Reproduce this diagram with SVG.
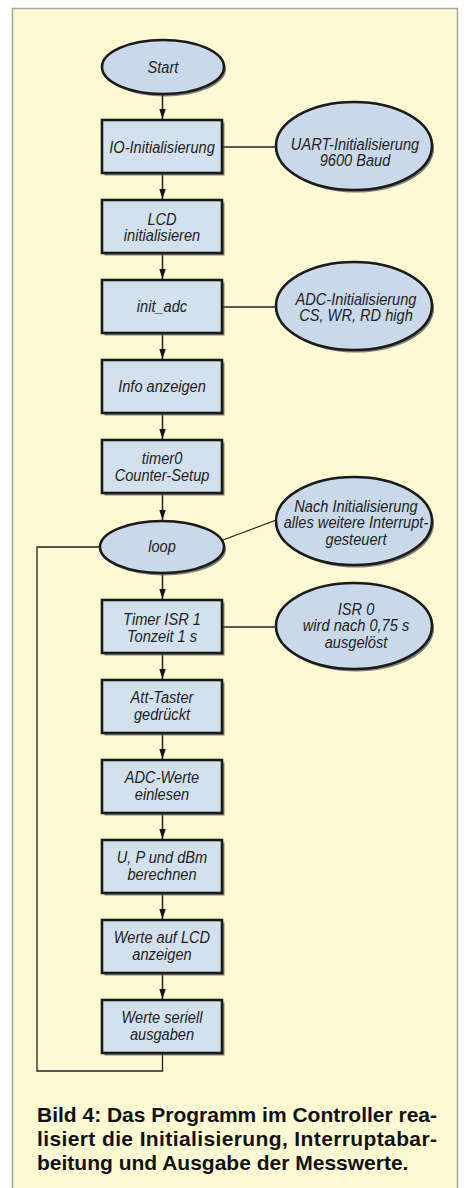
<svg xmlns="http://www.w3.org/2000/svg" width="466" height="1188" viewBox="0 0 466 1188">
<defs>
<style>
.box{fill:#d3e1ee;stroke:#1a1a1a;stroke-width:2.6}
.ell{fill:#c9d9ea;stroke:#1a1a1a;stroke-width:2.6}
.sh{fill:#555;opacity:0.75}
.t{font-family:"Liberation Sans",Arial,sans-serif;font-style:italic;font-size:17px;fill:#222;text-anchor:middle}
.ln{fill:none;stroke:#222;stroke-width:1.3}
.ar{fill:none;stroke:#222;stroke-width:1.5;marker-end:url(#ah)}
.cap{font-family:"Liberation Sans",Arial,sans-serif;font-weight:bold;font-size:21px;fill:#111}
</style>
<marker id="ah" viewBox="0 0 10 8" refX="10" refY="4" markerWidth="10" markerHeight="8" markerUnits="userSpaceOnUse" orient="auto">
<path d="M0,0.8 L10,4 L0,7.2 Z" fill="#111"/>
</marker>
</defs>
<rect x="0" y="0" width="466" height="1188" fill="#ffffff"/>
<rect x="12.5" y="8.5" width="445" height="1185" fill="#fdf9d2" stroke="#a8a8a0" stroke-width="1.5"/>

<g id="connectors">
<line class="ar" x1="162.5" y1="95" x2="162.5" y2="119"/>
<line class="ar" x1="162.5" y1="174" x2="162.5" y2="199"/>
<line class="ar" x1="162.5" y1="254" x2="162.5" y2="279"/>
<line class="ar" x1="162.5" y1="334" x2="162.5" y2="359"/>
<line class="ar" x1="162.5" y1="414" x2="162.5" y2="439"/>
<line class="ar" x1="162.5" y1="494" x2="162.5" y2="520"/>
<line class="ar" x1="162.5" y1="574" x2="162.5" y2="599"/>
<line class="ar" x1="162.5" y1="654" x2="162.5" y2="679"/>
<line class="ar" x1="162.5" y1="734" x2="162.5" y2="759"/>
<line class="ar" x1="162.5" y1="814" x2="162.5" y2="839"/>
<line class="ar" x1="162.5" y1="894" x2="162.5" y2="919"/>
<line class="ar" x1="162.5" y1="974" x2="162.5" y2="999"/>
<path class="ln" d="M162.5,1054 V1071 H37 V547 H100"/>
<line class="ln" x1="223" y1="147" x2="276" y2="147"/>
<line class="ln" x1="223" y1="307" x2="276" y2="307"/>
<line class="ln" x1="223" y1="540" x2="279" y2="519"/>
<line class="ln" x1="223" y1="627" x2="276" y2="627"/>
</g>

<g id="n-start">
<ellipse class="sh" cx="165" cy="69.5" rx="61" ry="27"/>
<ellipse class="ell" cx="163" cy="67" rx="61" ry="27"/>
<text class="t" transform="translate(163 72.5) scale(0.86 1)">Start</text>
</g>

<g id="n-io">
<rect class="sh" x="104.5" y="122.5" width="120" height="53"/>
<rect class="box" x="102" y="120" width="120" height="53"/>
<text class="t" transform="translate(162 153) scale(0.86 1)">IO-Initialisierung</text>
</g>

<g id="n-uart">
<ellipse class="sh" cx="356" cy="148.5" rx="78" ry="44"/>
<ellipse class="ell" cx="354" cy="146" rx="78" ry="44"/>
<text class="t" transform="translate(355 150) scale(0.86 1)"><tspan x="0">UART-Initialisierung</tspan><tspan x="0" dy="16.5">9600 Baud</tspan></text>
</g>

<g id="n-lcd">
<rect class="sh" x="104.5" y="202.5" width="120" height="53"/>
<rect class="box" x="102" y="200" width="120" height="53"/>
<text class="t" transform="translate(162 224.5) scale(0.86 1)"><tspan x="0">LCD</tspan><tspan x="0" dy="17">initialisieren</tspan></text>
</g>

<g id="n-initadc">
<rect class="sh" x="104.5" y="282.5" width="120" height="53"/>
<rect class="box" x="102" y="280" width="120" height="53"/>
<text class="t" transform="translate(162 312) scale(0.86 1)">init_adc</text>
</g>

<g id="n-adcinit">
<ellipse class="sh" cx="356" cy="308.5" rx="78" ry="44"/>
<ellipse class="ell" cx="354" cy="306" rx="78" ry="44"/>
<text class="t" transform="translate(356 305) scale(0.86 1)"><tspan x="0">ADC-Initialisierung</tspan><tspan x="0" dy="16.5">CS, WR, RD high</tspan></text>
</g>

<g id="n-info">
<rect class="sh" x="104.5" y="362.5" width="120" height="53"/>
<rect class="box" x="102" y="360" width="120" height="53"/>
<text class="t" transform="translate(162 392) scale(0.86 1)">Info anzeigen</text>
</g>

<g id="n-timer0">
<rect class="sh" x="104.5" y="442.5" width="120" height="53"/>
<rect class="box" x="102" y="440" width="120" height="53"/>
<text class="t" transform="translate(162 464) scale(0.86 1)"><tspan x="0">timer0</tspan><tspan x="0" dy="17">Counter-Setup</tspan></text>
</g>

<g id="n-loop">
<ellipse class="sh" cx="164" cy="549.5" rx="62" ry="26"/>
<ellipse class="ell" cx="162" cy="547" rx="62" ry="26"/>
<text class="t" transform="translate(162 552) scale(0.86 1)">loop</text>
</g>

<g id="n-nach">
<ellipse class="sh" cx="356" cy="523.5" rx="78" ry="44"/>
<ellipse class="ell" cx="354" cy="521" rx="78" ry="44"/>
<text class="t" transform="translate(356 512) scale(0.86 1)"><tspan x="0">Nach Initialisierung</tspan><tspan x="0" dy="16.5">alles weitere Interrupt-</tspan><tspan x="0" dy="16.5">gesteuert</tspan></text>
</g>

<g id="n-timerisr">
<rect class="sh" x="104.5" y="602.5" width="120" height="53"/>
<rect class="box" x="102" y="600" width="120" height="53"/>
<text class="t" transform="translate(162 625) scale(0.86 1)"><tspan x="0">Timer ISR 1</tspan><tspan x="0" dy="17">Tonzeit 1 s</tspan></text>
</g>

<g id="n-isr0">
<ellipse class="sh" cx="356" cy="628.5" rx="78" ry="43"/>
<ellipse class="ell" cx="354" cy="626" rx="78" ry="43"/>
<text class="t" transform="translate(356 615) scale(0.86 1)"><tspan x="0">ISR 0</tspan><tspan x="0" dy="16.5">wird nach 0,75 s</tspan><tspan x="0" dy="16.5">ausgelöst</tspan></text>
</g>

<g id="n-att">
<rect class="sh" x="104.5" y="682.5" width="120" height="53"/>
<rect class="box" x="102" y="680" width="120" height="53"/>
<text class="t" transform="translate(162 703) scale(0.86 1)"><tspan x="0">Att-Taster</tspan><tspan x="0" dy="17">gedrückt</tspan></text>
</g>

<g id="n-adcwerte">
<rect class="sh" x="104.5" y="762.5" width="120" height="53"/>
<rect class="box" x="102" y="760" width="120" height="53"/>
<text class="t" transform="translate(162 783) scale(0.86 1)"><tspan x="0">ADC-Werte</tspan><tspan x="0" dy="17">einlesen</tspan></text>
</g>

<g id="n-upd">
<rect class="sh" x="104.5" y="842.5" width="120" height="53"/>
<rect class="box" x="102" y="840" width="120" height="53"/>
<text class="t" transform="translate(162 863) scale(0.86 1)"><tspan x="0">U, P und dBm</tspan><tspan x="0" dy="17">berechnen</tspan></text>
</g>

<g id="n-lcdwerte">
<rect class="sh" x="104.5" y="922.5" width="120" height="53"/>
<rect class="box" x="102" y="920" width="120" height="53"/>
<text class="t" transform="translate(162 943) scale(0.86 1)"><tspan x="0">Werte auf LCD</tspan><tspan x="0" dy="17">anzeigen</tspan></text>
</g>

<g id="n-seriell">
<rect class="sh" x="104.5" y="1002.5" width="120" height="53"/>
<rect class="box" x="102" y="1000" width="120" height="53"/>
<text class="t" transform="translate(162 1023) scale(0.86 1)"><tspan x="0">Werte seriell</tspan><tspan x="0" dy="17">ausgaben</tspan></text>
</g>

<g id="caption">
<text class="cap" x="37" y="1122" textLength="400" lengthAdjust="spacing">Bild 4: Das Programm im Controller rea-</text>
<text class="cap" x="37" y="1146" textLength="400" lengthAdjust="spacing">lisiert die Initialisierung, Interruptabar-</text>
<text class="cap" x="37" y="1170">beitung und Ausgabe der Messwerte.</text>
</g>
</svg>
